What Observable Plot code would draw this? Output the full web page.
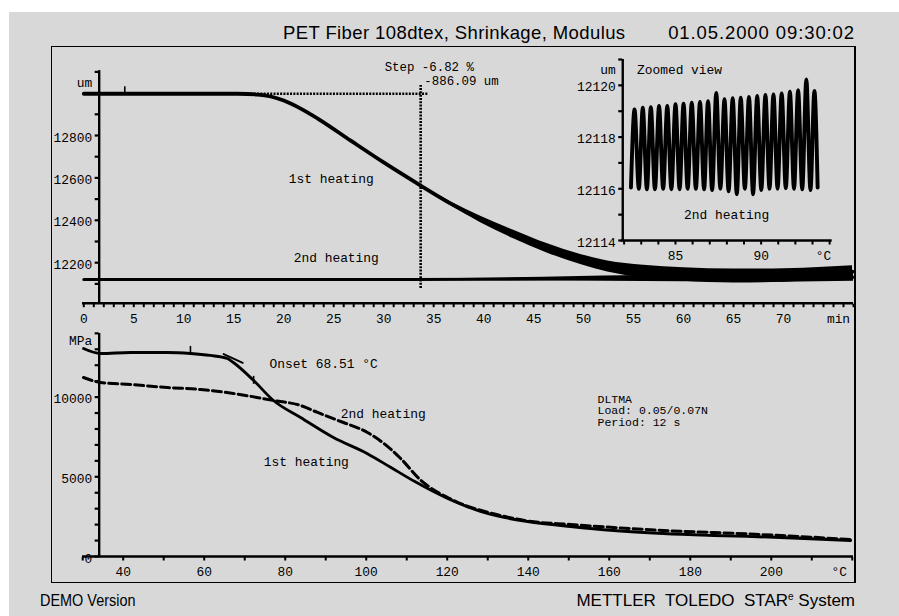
<!DOCTYPE html>
<html>
<head>
<meta charset="utf-8">
<script src="https://cdn.jsdelivr.net/npm/d3@7"></script>
<script src="https://cdn.jsdelivr.net/npm/@observablehq/plot@0.6"></script>
<style>
  html, body { margin: 0; padding: 0; background: #fff; }
  #page { position: relative; width: 899px; height: 616px; overflow: hidden; background: #fff; }
  #sheet { position: absolute; left: 9px; top: 12px; right: 0; bottom: 0; background: #d8d8d8; }
  #frame { position: absolute; left: 51px; top: 46px; width: 805px; height: 537px; box-sizing: border-box;
           border-style: solid; border-color: #000; border-width: 1.5px 2.5px 1.5px 1.5px; }
  .layer { position: absolute; left: 0; top: 0; }
  .sans { position: absolute; font-family: "Liberation Sans", Arial, sans-serif; color: #000; white-space: nowrap; }
  .head { font-size: 18.5px; line-height: 18px; }
  .foot { font-size: 17px; line-height: 17px; }
  sup { font-size: 10px; vertical-align: 6px; line-height: 0; }
</style>
</head>
<body>
<div id="page">
  <div id="sheet"></div>
  <div id="frame"></div>
  <div class="sans head" style="left:283px; top:23.5px; letter-spacing:0.4px;">PET Fiber 108dtex, Shrinkage, Modulus</div>
  <div class="sans head" style="right:44px; top:23.5px; letter-spacing:0.9px;">01.05.2000 09:30:02</div>
  <div class="sans foot" style="left:40px; top:592px; transform:scaleX(0.85); transform-origin:left;">DEMO Version</div>
  <div class="sans foot" style="right:44px; top:592px;">METTLER&nbsp; TOLEDO&nbsp; STAR<sup>e</sup>&nbsp;System</div>
</div>
<script>
const MONO = "'Liberation Mono', 'DejaVu Sans Mono', monospace";
const W = 899, H = 616;
const FS = 12.9;

// ---------- Shrinkage curves (length in um versus time in min) ----------
// 1st heating: trace centre and the half-width of the load oscillation
const heat1T    = [0, 4, 10, 15.4, 17.4, 18.7, 20, 21.7, 23.4, 26.7, 30, 33.7, 36.7, 39.7, 43, 46.4, 49.7, 52.4, 56, 60, 65, 70, 74, 76.9];
const heat1Mid  = [12997, 12997, 12997, 12997, 12993, 12984, 12965, 12927, 12880, 12776, 12673, 12564, 12479, 12404, 12333, 12267, 12215, 12182, 12158, 12144, 12137, 12140, 12149, 12158];
const heat1Half = [0, 0, 0, 0, 0, 0, 0, 0, 0, 0, 0, 2, 8, 15, 20, 22, 24, 26, 30, 32, 33, 32, 30, 28];

// 2nd heating
const heat2T    = [0, 10, 20, 33, 40, 46, 52, 60, 70, 77];
const heat2Low  = [12121, 12121, 12120, 12119, 12117, 12115, 12113, 12110, 12108, 12112];
const heat2High = [12121, 12121, 12122, 12123, 12127, 12131, 12137, 12142, 12146, 12150];

// step evaluation
const stepBaseT = [15.4, 34.5];
const stepLevel = 12997;
const stepT = 33.7;
const stepSpan = [12078, 13036];
const eventT = [4.1];

// ---------- Zoomed view: 2nd heating oscillation (um versus °C) ----------
const zoomPeakT = [82.61, 83.09, 83.56, 84.04, 84.52, 85.00, 85.47, 85.95, 86.43, 86.90, 87.38, 87.86,
                   88.34, 88.81, 89.29, 89.77, 90.25, 90.72, 91.20, 91.68, 92.16, 92.64, 93.11];
const zoomPeak  = [12119.07, 12119.14, 12119.16, 12119.20, 12119.20, 12119.27, 12119.29, 12119.33, 12119.36, 12119.39, 12119.71, 12119.46,
                   12119.50, 12119.52, 12119.55, 12119.59, 12119.63, 12119.65, 12119.69, 12119.75, 12119.81, 12120.23, 12119.78];
const zoomTroughT = [82.40, 82.86, 83.33, 83.80, 84.28, 84.76, 85.24, 85.71, 86.19, 86.67, 87.14, 87.62,
                     88.10, 88.58, 89.05, 89.53, 90.01, 90.49, 90.96, 91.44, 91.92, 92.40, 92.88, 93.30];
const zoomTrough  = [12116.05, 12116.00, 12115.98, 12115.98, 12116.00, 12115.98, 12115.98, 12116.00, 12116.00, 12115.98, 12115.95, 12116.00,
                     12115.90, 12115.79, 12116.00, 12115.79, 12115.95, 12116.00, 12116.00, 12116.02, 12116.00, 12115.98, 12115.95, 12116.05];

// ---------- Storage modulus (MPa versus °C) ----------
const mod1T = [30.2, 34.4, 41.8, 50.9, 56.6, 61.5, 65.7, 67.2, 72.2, 77.1, 83.8, 91.9, 100.3, 106, 112, 116, 120.1, 124, 128.2, 134, 139.8, 150.4, 161.1, 173.4, 185.8, 202.3, 219.6];
const mod1  = [13050, 12736, 12799, 12799, 12736, 12611, 12422, 12171, 11042, 9787, 8721, 7466, 6450, 5600, 4700, 4150, 3639, 3220, 2830, 2450, 2196, 1882, 1631, 1443, 1318, 1192, 1004];
const mod2T = [30.2, 34.4, 41.8, 50.9, 59.1, 67.2, 77.1, 83.8, 88.0, 93.7, 100.3, 104.8, 108.5, 113.4, 116.5, 120.1, 124, 128.2, 134, 139.8, 150.4, 161.1, 173.4, 185.8, 202.3, 219.6];
const mod2  = [11230, 10917, 10791, 10603, 10477, 10227, 9787, 9474, 9035, 8470, 7780, 7000, 6150, 4800, 4200, 3702, 3250, 2900, 2520, 2230, 2008, 1819, 1631, 1506, 1318, 1067];
const modEventT = [56.6];
const onsetT = [64.8, 69.5];
const onsetV = [12700, 12150];
const onsetMarkT = [72.2];

// ---------- tick positions and labels ----------
const topTicksX = d3.range(0, 78, 1);
const topLabelsX = [0, 5, 10, 15, 20, 25, 30, 35, 40, 45, 50, 55, 60, 65, 70];
const topTicksY = [12100, 12200, 12300, 12400, 12500, 12600, 12700, 12800, 12900, 13000, 13100];
const topLabelsY = [12200, 12400, 12600, 12800];
const zoomTicksX = [82, 83, 84, 85, 86, 87, 88, 89, 90, 91, 92, 93, 94];
const zoomLabelsX = [85, 90];
const zoomTicksY = [12114, 12115, 12116, 12117, 12118, 12119, 12120, 12121];
const zoomLabelsY = [12114, 12116, 12118, 12120];
const botTicksX = [30, 40, 50, 60, 70, 80, 90, 100, 110, 120, 130, 140, 150, 160, 170, 180, 190, 200, 210, 220];
const botLabelsX = [40, 60, 80, 100, 120, 140, 160, 180, 200];
const botTicksY = [0, 1000, 2000, 3000, 4000, 5000, 6000, 7000, 8000, 9000, 10000, 11000, 12000, 13000, 14000];
const botLabelsY = [0, 5000, 10000];

// scale set-ups: each panel is laid over the full page
const topX = {domain: [-0.13, 77.0], range: [82, 853]};
const topY = {domain: [11974.5, 13153.8], range: [310, 60]};
const zoomX = {domain: [81.83, 94.15], range: [620.7, 831.7]};
const zoomY = {domain: [12114, 12121], range: [240, 59]};
const botX = {domain: [29.95, 220.3], range: [82, 853]};
const botY = {domain: [-627.4, 14492], range: [566, 325]};

const perPx = s => Math.abs((s.domain[1] - s.domain[0]) / (s.range[1] - s.range[0]));

function panel(sx, sy, marks) {
  return Plot.plot({
    width: W, height: H,
    marginLeft: sx.range[0], marginRight: W - sx.range[1],
    marginTop: sy.range[1], marginBottom: H - sy.range[0],
    x: {domain: sx.domain, axis: null},
    y: {domain: sy.domain, axis: null},
    style: {background: "transparent", overflow: "visible", fontFamily: MONO},
    marks
  });
}

// axis lines, tick marks and tick labels drawn as ordinary marks
function axes(sx, sy, o) {
  const ux = perPx(sx), uy = perPx(sy);
  return [
    Plot.ruleY([o.xAxisAt], {x1: o.xFrom, x2: o.xTo, strokeWidth: 2.4}),
    Plot.ruleX(o.xTicks, {x: d => d, y1: o.xAxisAt - 1 * uy, y2: o.xAxisAt - 4.5 * uy, strokeWidth: 2}),
    Plot.text(o.xLabels, {x: d => d, y: o.xAxisAt, dy: 15.5, text: d => String(d), fontSize: FS, fontFamily: MONO}),
    Plot.text([o.xUnit], {x: o.xUnitAt, y: o.xAxisAt, dy: 15.5, text: d => d, fontSize: FS, fontFamily: MONO}),
    Plot.ruleX([o.yAxisAt], {y1: o.yFrom, y2: o.yTo, strokeWidth: 2.4}),
    Plot.ruleY(o.yTicks, {y: d => d, x1: o.yAxisAt - 4 * ux, x2: o.yAxisAt, strokeWidth: 2.2}),
    Plot.text(o.yLabels, {x: o.yAxisAt, y: d => d, dx: -7, dy: 2, textAnchor: "end", text: d => String(d), fontSize: FS, fontFamily: MONO}),
    Plot.text([o.yUnit], {x: o.yAxisAt, y: o.yUnitAt, dx: -7, textAnchor: "end", text: d => d, fontSize: FS, fontFamily: MONO})
  ];
}

const label = (s, x, y, extra = {}) =>
  Plot.text([s], {x, y, textAnchor: "start", text: d => d, fontSize: FS, fontFamily: MONO, ...extra});

const heat1 = heat1T.map((t, i) => ({t, mid: heat1Mid[i], lo: heat1Mid[i] - heat1Half[i], hi: heat1Mid[i] + heat1Half[i]}));
const heat2 = heat2T.map((t, i) => ({t, lo: heat2Low[i], hi: heat2High[i], mid: (heat2Low[i] + heat2High[i]) / 2}));

// ---------- upper panel ----------
const upper = panel(topX, topY, [
  ...axes(topX, topY, {
    xAxisAt: 12009, xFrom: -0.13, xTo: 77.0, xTicks: topTicksX, xLabels: topLabelsX, xUnit: "min", xUnitAt: 75.5,
    yAxisAt: 1.54, yFrom: 12009, yTo: 13106, yTicks: topTicksY, yLabels: topLabelsY, yUnit: "um", yUnitAt: 13050
  }),
  Plot.areaY(heat2, {x: "t", y1: "lo", y2: "hi", fill: "#000"}),
  Plot.line(heat2, {x: "t", y: "mid", stroke: "#000", strokeWidth: 3}),
  Plot.areaY(heat1, {x: "t", y1: "lo", y2: "hi", fill: "#000", curve: "monotone-x"}),
  Plot.line(heat1, {x: "t", y: "mid", stroke: "#000", strokeWidth: 3.8, curve: "monotone-x"}),
  Plot.ruleY([stepLevel], {x1: stepBaseT[0], x2: stepBaseT[1], stroke: "#000", strokeWidth: 2.6, strokeDasharray: "2,1.3"}),
  Plot.ruleX([stepT], {y1: stepSpan[0], y2: stepSpan[1], stroke: "#000", strokeWidth: 2.6, strokeDasharray: "2,1.3"}),
  Plot.ruleX(eventT, {y1: stepLevel, y2: 13030, strokeWidth: 1.6}),
  label("Step -6.82 %", 30.1, 13121, {fontSize: 12.4}),
  label("-886.09 um", 34.07, 13057, {fontSize: 12.4}),
  label("1st heating", 20.5, 12596),
  label("2nd heating", 21.0, 12223)
]);

// ---------- zoomed view ----------
const wave = [];
zoomTroughT.forEach((t, i) => {
  wave.push({t, v: zoomTrough[i]});
  if (i < zoomPeakT.length) wave.push({t: zoomPeakT[i], v: zoomPeak[i]});
});
const inset = panel(zoomX, zoomY, [
  ...axes(zoomX, zoomY, {
    xAxisAt: 12114, xFrom: 81.83, xTo: 94.15, xTicks: zoomTicksX, xLabels: zoomLabelsX, xUnit: "°C", xUnitAt: 93.64,
    yAxisAt: 81.92, yFrom: 12114, yTo: 12121, yTicks: zoomTicksY, yLabels: zoomLabelsY, yUnit: "um", yUnitAt: 12120.6
  }),
  Plot.line(wave, {x: "t", y: "v", stroke: "#000", strokeWidth: 3.9, curve: "monotone-x"}),
  label("Zoomed view", 82.75, 12120.6),
  label("2nd heating", 85.5, 12115.0)
]);

// ---------- lower panel ----------
const mod1Rows = mod1T.map((t, i) => ({t, v: mod1[i]}));
const mod2Rows = mod2T.map((t, i) => ({t, v: mod2[i]}));
const lower = panel(botX, botY, [
  ...axes(botX, botY, {
    xAxisAt: 0, xFrom: 29.95, xTo: 220.3, xTicks: botTicksX, xLabels: botLabelsX, xUnit: "°C", xUnitAt: 216.8,
    yAxisAt: 34.07, yFrom: 0, yTo: 13990, yTicks: botTicksY, yLabels: botLabelsY, yUnit: "MPa", yUnitAt: 13552
  }),
  Plot.line(mod2Rows, {x: "t", y: "v", stroke: "#000", strokeWidth: 3, strokeDasharray: "9,4", curve: "monotone-x"}),
  Plot.line(mod1Rows, {x: "t", y: "v", stroke: "#000", strokeWidth: 2.8, curve: "monotone-x"}),
  Plot.line(onsetT.map((t, i) => ({t, v: onsetV[i]})), {x: "t", y: "v", stroke: "#000", strokeWidth: 2}),
  Plot.ruleX(modEventT, {y1: 12736, y2: 13180, strokeWidth: 1.6}),
  Plot.ruleX(onsetMarkT, {y1: 10800, y2: 11300, strokeWidth: 1.6}),
  label("Onset 68.51 °C", 76.1, 12090),
  label("2nd heating", 93.7, 8953),
  label("1st heating", 74.7, 5917),
  label("DLTMA\nLoad: 0.05/0.07N\nPeriod: 12 s", 157.1, 10163, {lineAnchor: "top", lineHeight: 1.0, fontSize: 11.5})
]);

const page = document.getElementById("page");
for (const svg of [upper, inset, lower]) {
  svg.classList.add("layer");
  page.appendChild(svg);
}
</script>
</body>
</html>
